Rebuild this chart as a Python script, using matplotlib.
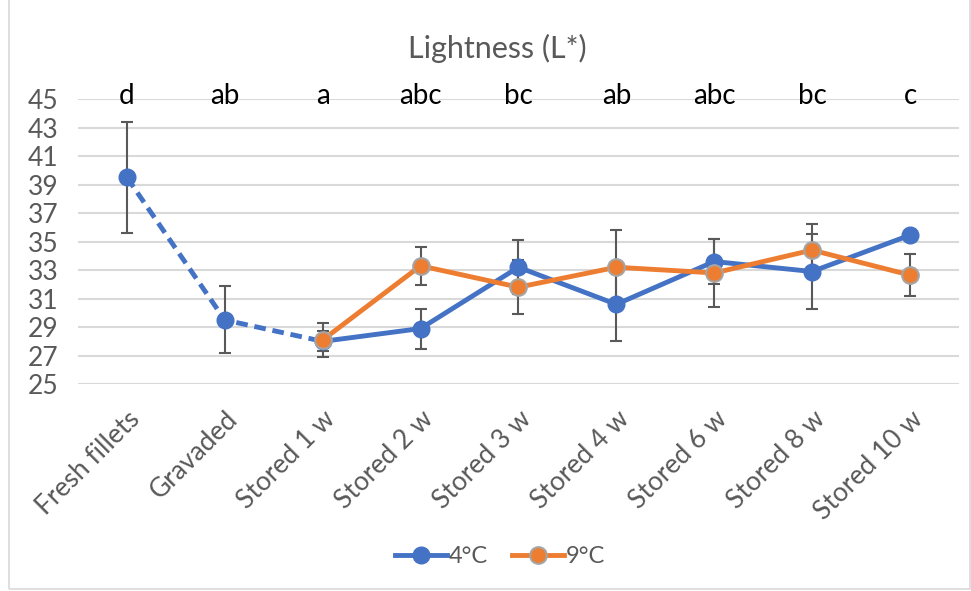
import numpy as np
import matplotlib.pyplot as plt
from matplotlib.patches import Rectangle

plt.rcParams['font.family'] = ['Lato', 'DejaVu Sans']

# categorias e valores
categories = ['Fresh fillets', 'Gravaded', 'Stored 1 w', 'Stored 2 w', 'Stored 3 w',
              'Stored 4 w', 'Stored 6 w', 'Stored 8 w', 'Stored 10 w']
letters = ['d', 'ab', 'a', 'abc', 'bc', 'ab', 'abc', 'bc', 'c']

l4 = [39.5, 29.5, 28.0, 28.9, 33.2, 30.6, 33.6, 32.9, 35.45]
l4_err = [3.9, 2.35, 0.7, 1.4, 1.9, 2.55, 1.6, 2.6, 0.3]
l9 = [28.1, 33.3, 31.8, 33.2, 32.8, 34.4, 32.65]
l9_err = [1.2, 1.35, 1.9, 2.6, 2.4, 1.8, 1.5]

blue = '#4472C4'
orange = '#ED7D31'
gray = '#595959'

x = np.arange(len(categories))
x9 = x[2:]

fig = plt.figure(figsize=(9.71, 5.91), dpi=100)
ax = fig.add_axes([0.0803, 0.350, 0.9073, 0.4825])

# borda do grafico
fig.patches.append(Rectangle((0.009, 0.004), 0.99, 1.2, transform=fig.transFigure,
                             fill=False, edgecolor='#d9d9d9', lw=1.2))

for v in np.arange(25, 46, 2):
    ax.axhline(v, color='#d9d9d9', lw=1.5, zorder=0)

# barras de erro
ekw = dict(fmt='none', ecolor=gray, elinewidth=1.5, capsize=4, capthick=1.5, zorder=2)
ax.errorbar(x, l4, yerr=l4_err, **ekw)
ax.errorbar(x9, l9, yerr=l9_err, **ekw)

# 4C: tracejado ate stored 1, depois solido
ax.plot(x[:3], l4[:3], color=blue, lw=3.5, ls=(0, (2.4, 1.4)), zorder=3)
ax.plot(x[2:], l4[2:], color=blue, lw=3.5, zorder=3)
ax.plot(x, l4, ls='none', marker='o', ms=12, color=blue, mec=blue, zorder=4)
ax.plot(x9, l9, color=orange, lw=3.5, marker='o', ms=12, mec='#a5a5a5', mew=1.5, zorder=5)

# letras de significancia
for xi, t in zip(x, letters):
    ax.text(xi, 44.3, t, ha='center', va='bottom', fontsize=20, color='black')

ax.set_xlim(-0.5, len(categories) - 0.5)
ax.set_ylim(25, 45)
ax.set_yticks(np.arange(25, 46, 2))
ax.set_xticks(x)
ax.set_xticklabels(categories, rotation=45, ha='right', rotation_mode='anchor')
ax.tick_params(axis='both', length=0, labelsize=19, labelcolor=gray)
ax.tick_params(axis='x', pad=16)
ax.tick_params(axis='y', pad=14)
for s in ax.spines.values():
    s.set_visible(False)

fig.text(0.512, 0.918, 'Lightness (L*)', ha='center', va='center', fontsize=22, color=gray)

h4 = plt.Line2D([], [], color=blue, lw=3.5, marker='o', ms=12, mec=blue)
h9 = plt.Line2D([], [], color=orange, lw=3.5, marker='o', ms=12, mec='#a5a5a5', mew=1.5)
fig.legend([h4, h9], ['4°C', '9°C'], loc='center', bbox_to_anchor=(0.515, 0.058), ncol=2,
           frameon=False, fontsize=17, handlelength=2.2, handletextpad=0.1, columnspacing=1.0,
           labelcolor=gray)

fig.savefig('out.png', dpi=100)
